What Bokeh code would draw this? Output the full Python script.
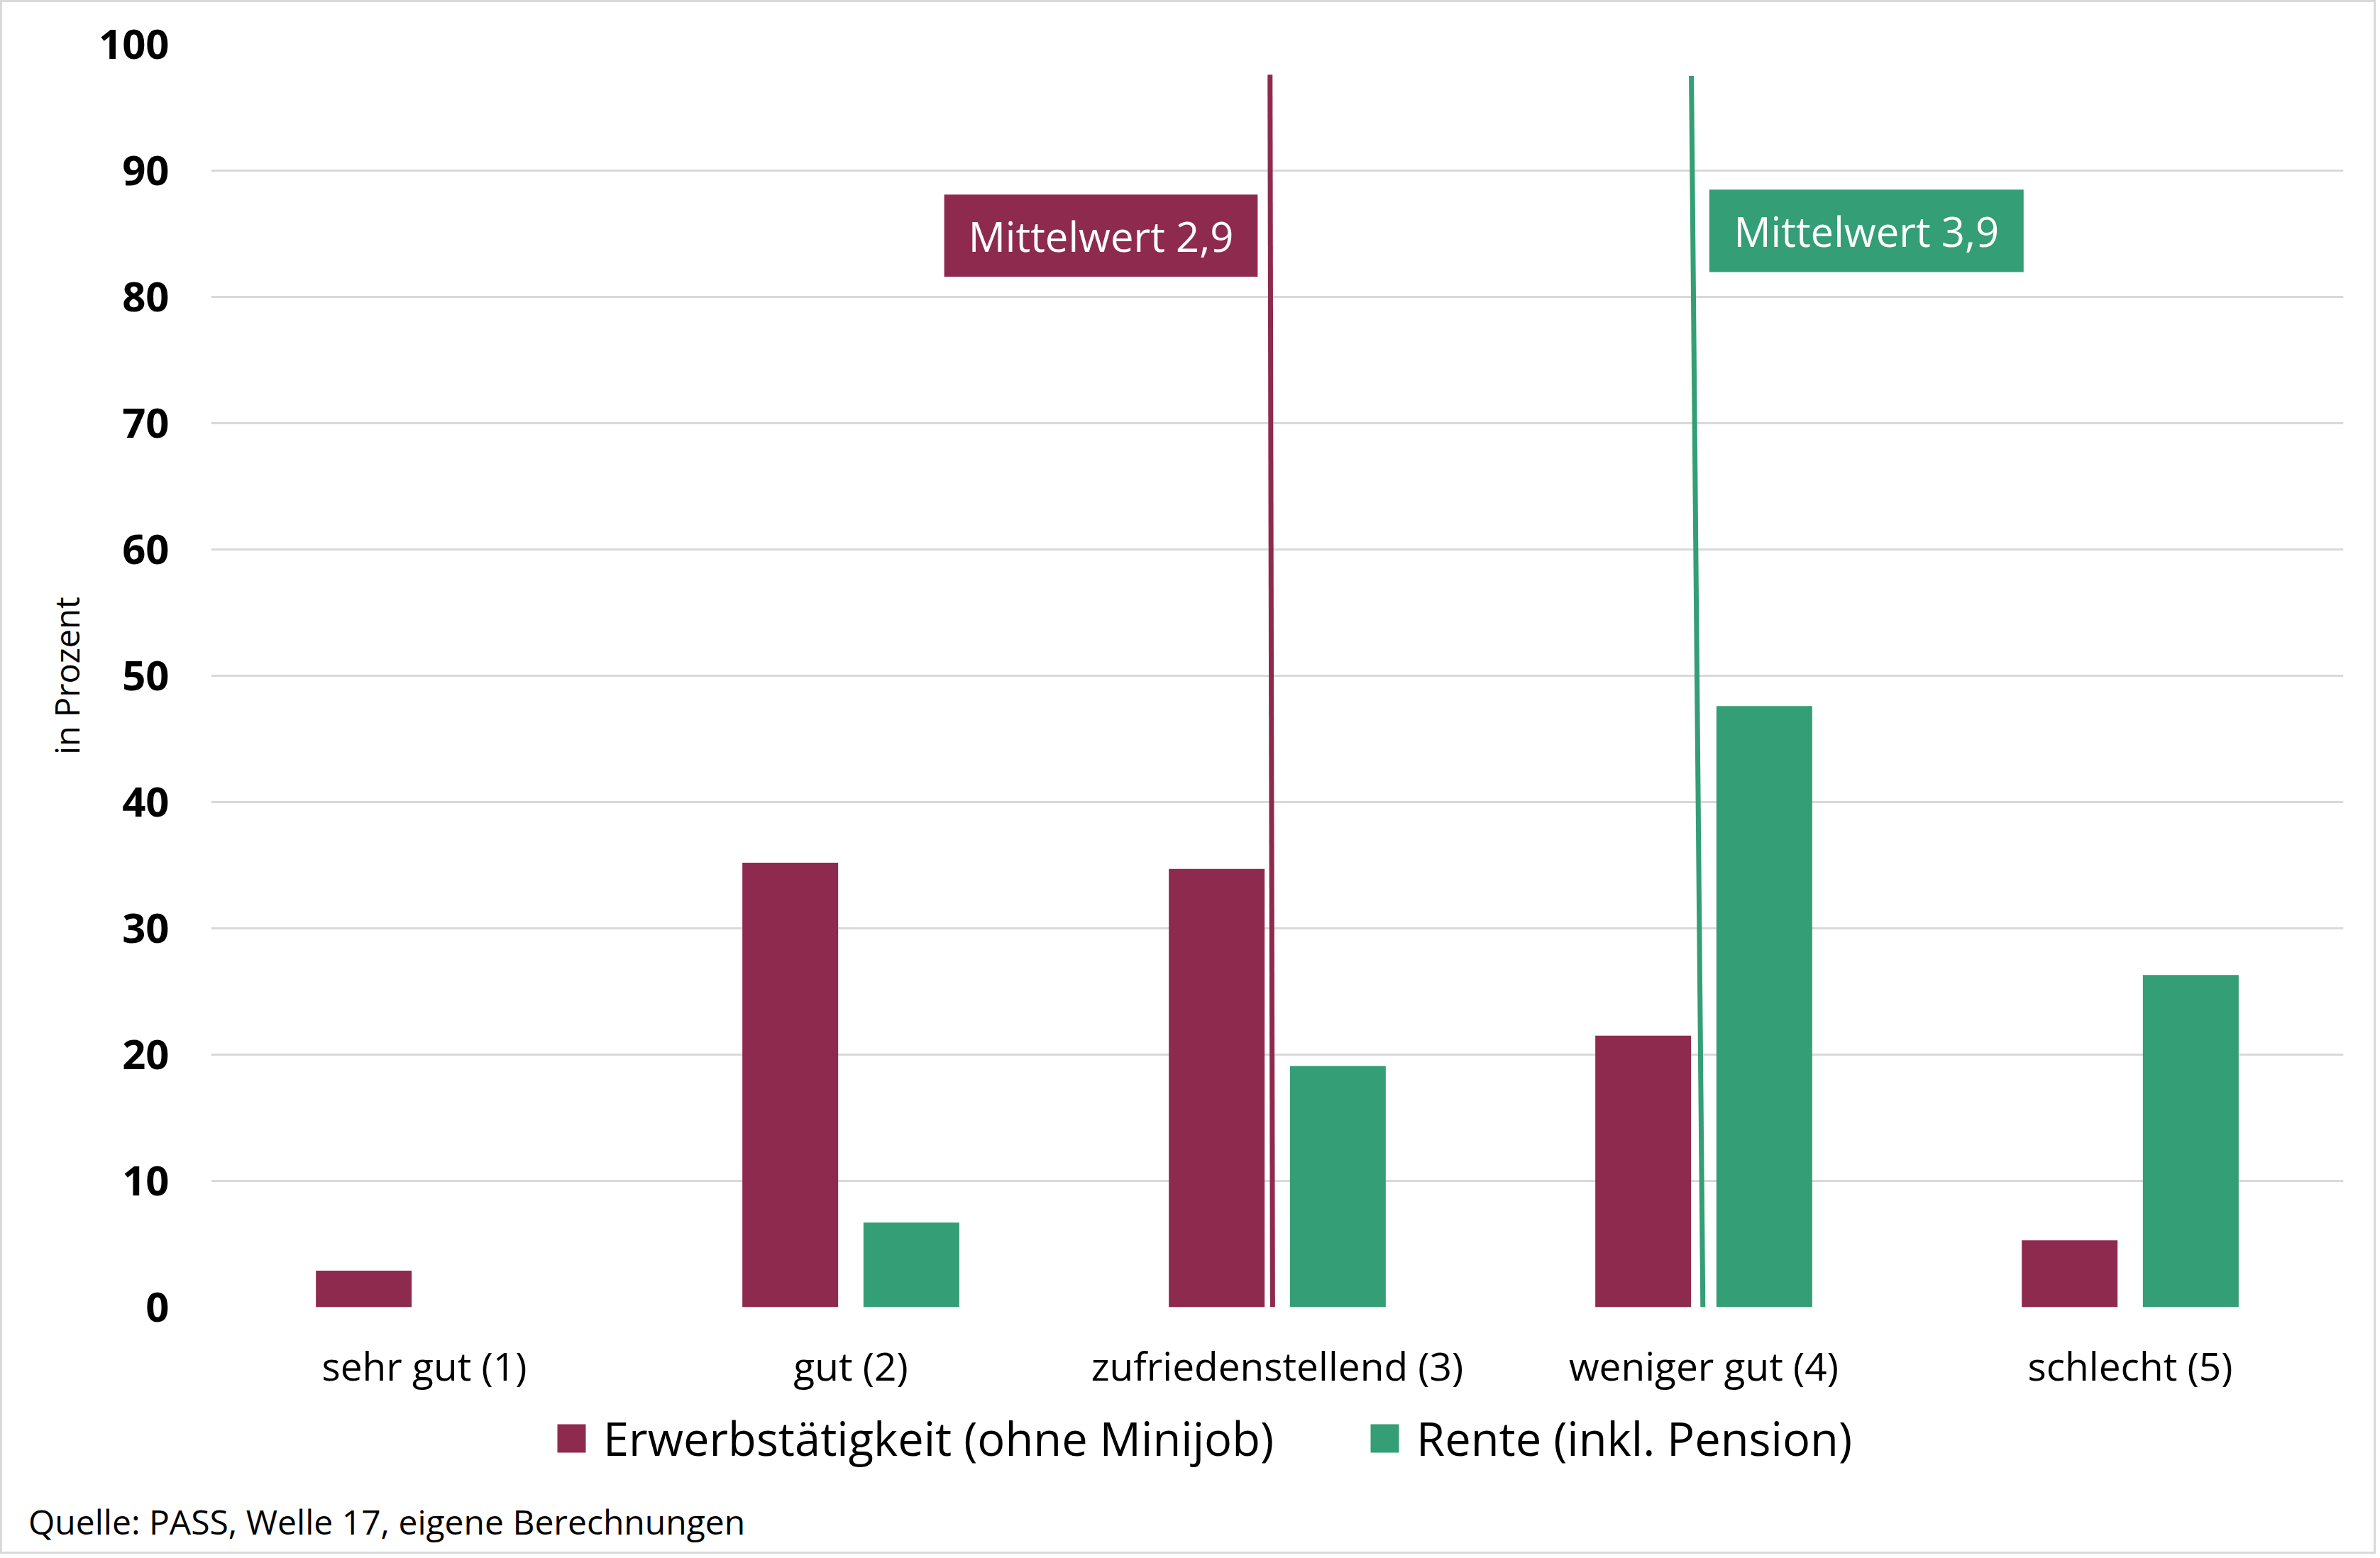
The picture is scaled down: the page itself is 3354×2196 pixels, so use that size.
from bokeh.plotting import figure
from bokeh.layouts import column
from bokeh.models import (Range1d, FixedTicker, Legend, LegendItem, Div, ColumnDataSource)
from bokeh.core.properties import value
from bokeh.embed import file_html
from bokeh.resources import INLINE

# ---- data ----
categories = ["sehr gut (1)", "gut (2)", "zufriedenstellend (3)", "weniger gut (4)", "schlecht (5)"]
erwerb = [2.9, 35.2, 34.7, 21.5, 5.3]
rente = [0.0, 6.7, 19.1, 47.6, 26.3]
series_names = ["Erwerbstätigkeit (ohne Minijob)", "Rente (inkl. Pension)"]
y_ticks = [0, 10, 20, 30, 40, 50, 60, 70, 80, 90, 100]
mean_labels = ["Mittelwert 2,9", "Mittelwert 3,9"]
# mean marker lines (drawn shapes): bottom/top x on category axis, top y in percent
mean_x_bottom = [2.989, 3.998]
mean_x_top = [2.983, 3.971]
mean_y_top = [97.6, 97.5]
source_note = "Quelle: PASS, Welle 17, eigene Berechnungen"

RED = "#8E2A4E"
GREEN = "#349E76"
FONT = "Open Sans"

W = 3332
H1 = 1979
H2 = 130
H3 = 65

# ---------- main chart ----------
p = figure(width=W, height=H1, output_backend="svg", toolbar_location=None,
           x_range=Range1d(0.5, 5.5), y_range=Range1d(0, 100),
           min_border_left=294, min_border_right=33, min_border_top=59, min_border_bottom=140)
p.outline_line_color = None
p.background_fill_color = "white"
p.border_fill_color = "white"

xs = list(range(1, len(categories) + 1))
bw = 0.2246
off = 0.142
src = ColumnDataSource(dict(x=xs, erwerb=erwerb, rente=rente,
                            xr=[x - off for x in xs], xg=[x + off for x in xs]))
p.vbar(x="xr", top="erwerb", width=bw, source=src, fill_color=RED, line_color=None)
p.vbar(x="xg", top="rente", width=bw, source=src, fill_color=GREEN, line_color=None)

# mean lines
p.segment(x0=mean_x_bottom, y0=[0, 0], x1=mean_x_top, y1=mean_y_top,
          line_color=[RED, GREEN], line_width=7)

# mean label boxes
box_left = [2.219, 4.013]
box_right = [2.954, 4.750]
box_top = [88.1, 88.5]
box_bottom = [81.6, 81.97]
p.quad(left=box_left, right=box_right, top=box_top, bottom=box_bottom,
       fill_color=[RED, GREEN], line_color=None)
p.text(x=[(a + b) / 2 for a, b in zip(box_left, box_right)],
       y=[(a + b) / 2 for a, b in zip(box_top, box_bottom)],
       text=mean_labels, text_color="white", text_font=value(FONT),
       text_font_size="58px", text_align="center", text_baseline="middle")

# axes
xa = p.xaxis[0]
xa.ticker = FixedTicker(ticks=xs)
xa.major_label_overrides = {x: c for x, c in zip(xs, categories)}
xa.axis_line_color = None
xa.major_tick_line_color = None
xa.minor_tick_line_color = None
xa.major_label_text_font = FONT
xa.major_label_text_font_size = "55px"
xa.major_label_text_color = "black"
xa.major_label_standoff = 38

ya = p.yaxis[0]
ya.ticker = FixedTicker(ticks=y_ticks)
ya.axis_line_color = None
ya.major_tick_line_color = None
ya.minor_tick_line_color = None
ya.major_label_text_font = FONT
ya.major_label_text_font_style = "bold"
ya.major_label_text_font_size = "58px"
ya.major_label_text_color = "black"
ya.major_label_standoff = 53
ya.axis_label = "in Prozent"
ya.axis_label_text_font = FONT
ya.axis_label_text_font_style = "normal"
ya.axis_label_text_font_size = "47px"
ya.axis_label_text_color = "black"
ya.axis_label_standoff = 10

p.xgrid.grid_line_color = None
p.ygrid.ticker = FixedTicker(ticks=y_ticks)
p.ygrid.grid_line_color = "#d9d9d9"
p.ygrid.grid_line_width = 3

# ---------- legend strip ----------
q = figure(width=W, height=H2, output_backend="svg", toolbar_location=None,
           x_range=Range1d(0, 1), y_range=Range1d(0, 1),
           x_axis_type=None, y_axis_type=None,
           min_border_left=294, min_border_right=33, min_border_top=0, min_border_bottom=0)
q.outline_line_color = None
q.background_fill_color = "white"
q.border_fill_color = "white"
q.xgrid.visible = False
q.ygrid.visible = False

# legend keys (placed outside the visible range, only used for the legend swatches)
k1 = q.vbar(x=[-10], top=[-10], bottom=[-11], width=0.1, fill_color=RED, line_color=None)
k2 = q.vbar(x=[-10], top=[-10], bottom=[-11], width=0.1, fill_color=GREEN, line_color=None)
legend = Legend(items=[LegendItem(label=series_names[0], renderers=[k1]),
                       LegendItem(label=series_names[1], renderers=[k2])],
                orientation="horizontal", location=(483, 41),
                label_text_font=FONT, label_text_font_size="65px", label_text_color="black",
                glyph_width=50, glyph_height=50, label_standoff=20, spacing=131,
                border_line_color=None, background_fill_alpha=0, margin=0, padding=0)
q.add_layout(legend, "center")

# ---------- source note ----------
note = Div(text=source_note, width=W, height=H3,
           styles={"font-family": "'Open Sans'", "font-size": "48px", "line-height": "48px",
                   "color": "black", "padding-left": "32px", "padding-top": "4px",
                   "box-sizing": "border-box", "white-space": "nowrap", "background": "white"})

layout = column(p, q, note, spacing=0,
                styles={"border": "3px solid #d9d9d9", "background": "white"})

open("out.html", "w").write(file_html(layout, INLINE))
